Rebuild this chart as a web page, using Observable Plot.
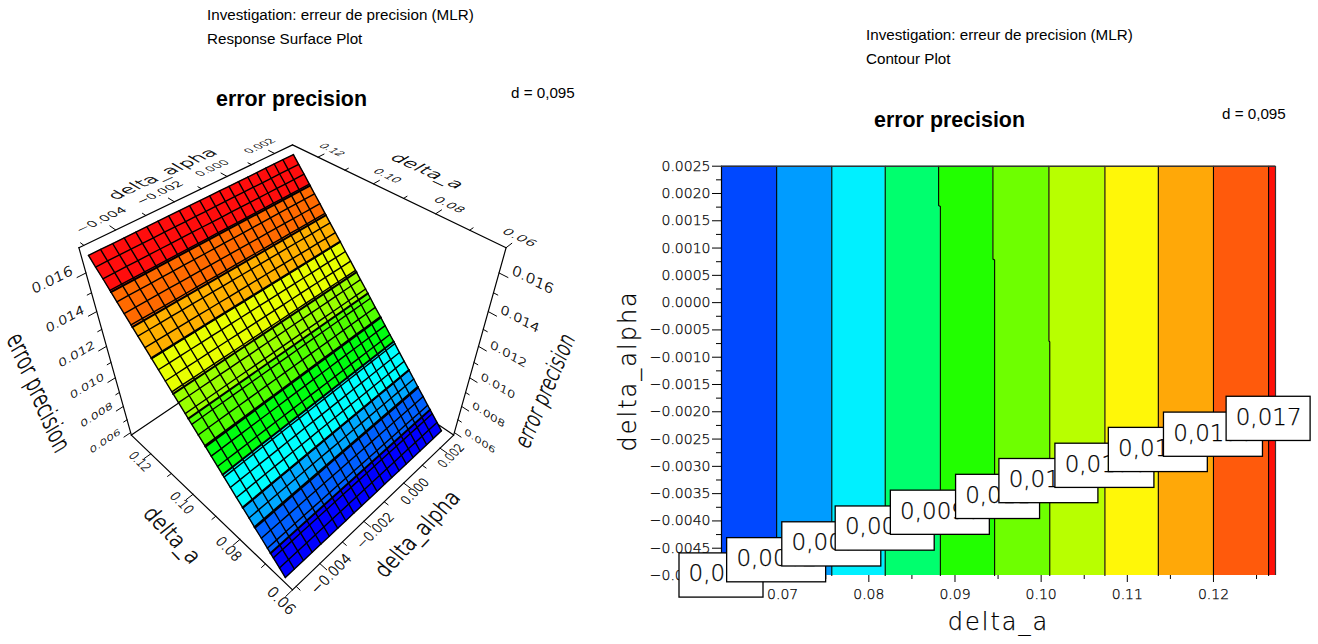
<!DOCTYPE html>
<html><head><meta charset="utf-8">
<script src="https://cdn.jsdelivr.net/npm/d3@7"></script>
<script src="https://cdn.jsdelivr.net/npm/@observablehq/plot@0.6"></script>
<style>
html,body{margin:0;background:#fff;}
#page{position:relative;width:1318px;height:644px;overflow:hidden;background:#fff;}
.t{position:absolute;font-family:"Liberation Sans",Arial,sans-serif;font-size:15.2px;color:#000;white-space:nowrap;line-height:1;}
.h{font-weight:bold;font-size:21.4px;}
#left,#right{position:absolute;}
#left{left:0;top:0;} #right{left:620px;top:130px;}
svg text{font-weight:200;stroke:#000;stroke-width:.25px;}
</style></head><body><div id="page">
<div class="t" style="left:207px;top:7px">Investigation: erreur de precision (MLR)</div>
<div class="t" style="left:207px;top:31px">Response Surface Plot</div>
<div class="t h" style="left:216px;top:89px">error precision</div>
<div class="t" style="left:511px;top:85px">d = 0,095</div>
<div class="t" style="left:866px;top:27px">Investigation: erreur de precision (MLR)</div>
<div class="t" style="left:866px;top:51px">Contour Plot</div>
<div class="t h" style="left:874px;top:110px">error precision</div>
<div class="t" style="left:1222px;top:106px">d = 0,095</div>
<div id="left"></div><div id="right"></div>
</div>
<script>
// ---------- surface data ----------
const surfaceAlpha=[-.0051,-.00473,-.00435,-.00398,-.0036,-.00323,-.00285,-.00248,-.0021,-.00173,-.00135,-.00098,-.0006,-.00023,.00015,.00053,.0009,.00128,.00165,.00203,.0025];
const surfaceA=[.0630,.0651,.0673,.0694,.0715,.0737,.0758,.0779,.0801,.0822,.0843,.0865,.0886,.0907,.0929,.0950,.0971,.0993,.1014,.1035,.1057,.1078,.1099,.1121,.1142,.1163,.1185,.1206,.1227,.1249,.1270];
const surfaceZ=[.00609,.00645,.00682,.00718,.00755,.00792,.00829,.00865,.00902,.00938,.00975,.01012,.01048,.01085,.01121,.01158,.01195,.01231,.01268,.01304,.01341,.01378,.01414,.01451,.01487,.01524,.01561,.01597,.01634,.0167,.01706];
const surfaceBandA=[.063,.0683,.0739,.0780,.0848,.0905,.0961,.1010,.1079,.1138,.1203,.127];
const surfaceColors=["#0000ff","#0060ff","#00a8ff","#00ffff","#00ff10","#50ff00","#99ff00","#e8ff00","#ffb000","#ff6a00","#ff0d0d"];
const alphaDomain=[-.00515,.0028], aDomain=[.06,.13], zDomain=[.0058,.0172];
const alphaMajor=[-.004,-.002,0,.002], alphaMinor=[-.005,-.003,-.001,.001];
const aMajor=[.06,.08,.10,.12], aMinor=[.07,.09,.11];
const zMajor=[.006,.008,.010,.012,.014,.016], zMinor=[.007,.009,.011,.013,.015];
const camera={elevation:45,distance:5.05,focal:656};
const tickEm=.107;
// ---------- contour data ----------
const contourAlpha=[.0025,.00178,.00176,.0008,.00078,-.0007,-.00072,-.005];
const contourLines=[
 [.0693,.0693,.0693,.0693,.0693,.0693,.0693,.0693],
 [.0757,.0757,.0757,.0757,.0757,.0757,.0757,.0757],
 [.0819,.0819,.0819,.0819,.0819,.0819,.0819,.0819],
 [.0881,.0881,.0883,.0883,.0883,.0883,.0883,.0883],
 [.0944,.0944,.0944,.0944,.0946,.0946,.0946,.0946],
 [.1009,.1009,.1009,.1009,.1009,.1009,.1010,.1010],
 [.1074,.1074,.1074,.1074,.1074,.1074,.1074,.1074],
 [.1136,.1136,.1136,.1136,.1136,.1136,.1136,.1136],
 [.1200,.1200,.1200,.1200,.1200,.1200,.1200,.1200],
 [.1264,.1264,.1264,.1264,.1264,.1264,.1264,.1264]];
const contourColors=["#0048ff","#009cff","#00f0ff","#00ff6e","#22ff00","#6eff00","#b8ff00","#fff708","#ffa808","#ff5a0c","#ff1008"];
const contourDomainA=[.0629,.1272], contourDomainAlpha=[-.005,.0025];
const labelTexts=["0,005","0,0062","0,0074","0,0086","0,0098","0,011","0,0122","0,0134","0,0146","0,0158","0,017"];
const labelA=[.0629,.0693,.0757,.0819,.0883,.0950,.1009,.1074,.1136,.1200,.1264];
const labelAlpha=[-.0050,-.00472,-.00443,-.00414,-.00385,-.00356,-.00327,-.00299,-.00270,-.00242,-.00213];
const boxHeightAlpha=.00081;
const yMajor=[.0025,.002,.0015,.001,.0005,0,-.0005,-.001,-.0015,-.002,-.0025,-.003,-.0035,-.004,-.0045,-.005];
const yMinor=[.00225,.00175,.00125,.00075,.00025,-.00025,-.00075,-.00125,-.00175,-.00225,-.00275,-.00325,-.00375,-.00425,-.00475];
const xMajor=[.07,.08,.09,.10,.11,.12];
const xMinor=[.065,.075,.085,.095,.105,.115,.125];

// ---------- camera ----------
const norm=(v,[a,b])=>-1+2*(v-a)/(b-a);
const nU=v=>norm(v,alphaDomain),nV=v=>norm(v,aDomain),nZ=v=>norm(v,zDomain);
const sE=Math.sin(camera.elevation*Math.PI/180),cE=Math.cos(camera.elevation*Math.PI/180);
function cam(U,V,Z){
  const p=(U-V)/Math.SQRT2,q=(U+V)/Math.SQRT2;
  const up=q*sE+Z*cE,t=-q*cE+Z*sE,s=camera.focal/(camera.distance-t);
  return {x:p*s,y:up*s};
}
const zAt=d3.scaleLinear(surfaceA,surfaceZ);
const pt=(alpha,a,z)=>cam(nU(alpha),nV(a),nZ(z));
const aLo=surfaceAlpha[0],aHi=surfaceAlpha[surfaceAlpha.length-1];

const bandPts=[];
surfaceColors.forEach((color,b)=>{
  const a0=surfaceBandA[b],a1=surfaceBandA[b+1];
  [[aLo,a0],[aHi,a0],[aHi,a1],[aLo,a1],[aLo,a0]].forEach(([al,a])=>bandPts.push({...pt(al,a,zAt(a)),band:b,color}));
});
const gridPts=[];
surfaceA.forEach((a,i)=>surfaceAlpha.forEach(al=>gridPts.push({...pt(al,a,surfaceZ[i]),id:"r"+i})));
surfaceAlpha.forEach((al,j)=>surfaceA.forEach((a,i)=>gridPts.push({...pt(al,a,surfaceZ[i]),id:"c"+j})));
const bandLinePts=[];
surfaceBandA.slice(1,-1).forEach((a,i)=>[aLo,aHi].forEach(al=>bandLinePts.push({...pt(al,a,zAt(a)),id:i})));

const frameEdges=[[[-1,1,1],[1,1,1]],[[1,1,1],[1,-1,1]],[[1,-1,1],[1,-1,-1]],[[-1,1,1],[-1,1,-1]],[[-1,1,-1],[-1,-1,-1]],[[-1,-1,-1],[1,-1,-1]]];
const backEdges=[[[-1,1,-1],[1,1,-1]],[[1,-1,-1],[1,1,-1]]];
const edgePts=(list)=>list.flatMap((e,i)=>e.map(c=>({...cam(...c),id:i})));
const tickSegs=[];
const addTick=(from,to)=>{const id=tickSegs.length;tickSegs.push({...cam(...from),id},{...cam(...to),id});};
[[alphaMajor,.07],[alphaMinor,.04]].forEach(([vals,l])=>vals.forEach(v=>{
  const U=nU(v);addTick([U,1,1],[U,1+l,1]);addTick([U,-1,-1],[U,-1-l,-1]);}));
[[aMajor,.07],[aMinor,.04]].forEach(([vals,l])=>vals.forEach(v=>{
  const V=nV(v);addTick([1,V,1],[1+l,V,1]);addTick([-1,V,-1],[-1-l,V,-1]);}));
[[zMajor,.07],[zMinor,.035]].forEach(([vals,l])=>vals.forEach(v=>{
  const Z=nZ(v);addTick([-1,1,Z],[-1-l,1,Z]);addTick([1,-1,Z],[1,-1-l,Z]);}));

const fa=d3.format(".3f"),fb=d3.format(".2f");
const labels3d=[];
const addL=(text,n,dir,up,em)=>labels3d.push({text,n,dir,up,em,...cam(...n)});
alphaMajor.forEach(v=>{addL(fa(v),[nU(v),1.14,1],[1,0,0],[0,1,0],tickEm);addL(fa(v),[nU(v),-1.15,-1],[1,0,0],[0,1,0],tickEm);});
aMajor.forEach(v=>{addL(fb(v),[1.13,nV(v),1],[0,-1,0],[1,0,0],tickEm);addL(fb(v),[-1.15,nV(v),-1],[0,-1,0],[1,0,0],tickEm);});
zMajor.forEach(v=>{addL(fa(v),[-1.22,1.05,nZ(v)],[1,0,0],[0,0,1],tickEm);addL(fa(v),[1.05,-1.22,nZ(v)],[0,-1,0],[0,0,1],tickEm);});
addL("delta_alpha",[-.03,1.32,1],[1,0,0],[0,1,0],.172);
addL("delta_a",[1.38,-.03,1],[0,-1,0],[1,0,0],.175);
addL("error precision",[-1.65,1,.03],[0,0,-1],[1,0,0],.177);
addL("error precision",[1,-1.63,.04],[0,0,1],[0,1,0],.162);
addL("delta_a",[-1.4,-.03,-1],[0,-1,0],[1,0,0],.166);
addL("delta_alpha",[0,-1.42,-1],[1,0,0],[0,1,0],.17);

const font='"DejaVu Sans",sans-serif';
const left=Plot.plot({
  width:600,height:644,margin:0,
  x:{domain:[-292,308],range:[0,600],axis:null},
  y:{domain:[354,-290],range:[0,644],axis:null},
  style:{fontFamily:font,background:"transparent",overflow:"visible"},
  marks:[
    Plot.line(edgePts(backEdges),{x:"x",y:"y",z:"id",stroke:"#000",strokeWidth:1.2}),
    Plot.line(bandPts,{x:"x",y:"y",z:"band",fill:"color",stroke:"color",strokeWidth:.5}),
    Plot.line(gridPts,{x:"x",y:"y",z:"id",stroke:"#000",strokeWidth:1.4}),
    Plot.line(bandLinePts,{x:"x",y:"y",z:"id",stroke:"#000",strokeWidth:2}),
    Plot.line(edgePts(frameEdges),{x:"x",y:"y",z:"id",stroke:"#000",strokeWidth:1.2}),
    Plot.line(tickSegs,{x:"x",y:"y",z:"id",stroke:"#000",strokeWidth:1}),
    Plot.text(labels3d,{x:"x",y:"y",text:"text",fontSize:10,fill:"#000",textAnchor:"middle"})
  ]
});
document.getElementById("left").appendChild(left);
// text laid into the planes of the box: each run takes the camera's local basis
left.querySelectorAll('g[aria-label="text"] text').forEach((el,i)=>{
  const d=labels3d[i];if(!d)return;
  const off=(v,k)=>d.n.map((c,j)=>c+v[j]*k);
  const o=cam(...d.n),a=cam(...off(d.dir,d.em)),b=cam(...off(d.up,d.em));
  el.removeAttribute("x");el.removeAttribute("y");
  el.setAttribute("transform",`matrix(${(a.x-o.x)/10} ${-(a.y-o.y)/10} ${-(b.x-o.x)/10} ${(b.y-o.y)/10} ${o.x+292} ${354-o.y})`);
});

// ---------- contour ----------
const bandRows=[];
contourColors.forEach((color,b)=>contourAlpha.forEach((alpha,k)=>bandRows.push({
  band:b,color,alpha,
  lo:b===0?contourDomainA[0]:contourLines[b-1][k],
  hi:b===contourColors.length-1?contourDomainA[1]:contourLines[b][k]})));
const lineRows=contourLines.flatMap((l,i)=>l.map((a,k)=>({a,alpha:contourAlpha[k],id:i})));
const labelRows=labelTexts.map((text,i)=>({text,a:labelA[i],alpha:labelAlpha[i],w:(text.length===5?84:99)/8616}));
const yf=d3.format(".4f"),xf=d3.format(".2f");
const right=Plot.plot({
  width:698,height:514,marginTop:35.7,marginBottom:69,marginLeft:101,marginRight:43,
  x:{domain:contourDomainA,axis:null},
  y:{domain:contourDomainAlpha,axis:null},
  style:{fontFamily:font,background:"transparent",overflow:"visible"},
  marks:[
    Plot.area(bandRows,{x1:"lo",x2:"hi",y1:"alpha",y2:"alpha",z:"band",fill:"color"}),
    Plot.line(lineRows,{x:"a",y:"alpha",z:"id",stroke:"#000",strokeWidth:1.1}),
    Plot.ruleX([contourDomainA[0]],{stroke:"#000",strokeWidth:1.2}),
    Plot.ruleX([contourDomainA[1]],{stroke:"#333",strokeWidth:1.2}),
    Plot.ruleY([contourDomainAlpha[1]],{stroke:"#333",strokeWidth:1.4}),
    Plot.axisY({ticks:yMajor,anchor:"left",tickSize:9,tickPadding:2,fontSize:14,tickFormat:yf,label:null}),
    Plot.axisY({ticks:yMinor,anchor:"left",tickSize:5,fill:"none",label:null}),
    Plot.axisX({ticks:xMajor,anchor:"bottom",tickSize:7,tickPadding:7,fontSize:14,tickFormat:xf,label:null}),
    Plot.axisX({ticks:xMinor,anchor:"bottom",tickSize:4,fill:"none",label:null}),
    Plot.text(["delta_a"],{frameAnchor:"bottom",dy:47,fontSize:24,lineAnchor:"middle"}),
    Plot.text(["delta_alpha"],{frameAnchor:"left",dx:-93,rotate:-90,fontSize:24,textAnchor:"middle"}),
    ...labelRows.flatMap(d=>[
      Plot.rect([d],{x1:r=>r.a-r.w/2,x2:r=>r.a+r.w/2,y1:r=>r.alpha-boxHeightAlpha/2,y2:r=>r.alpha+boxHeightAlpha/2,fill:"#fff",stroke:"#000",strokeWidth:1.3}),
      Plot.text([d],{x:"a",y:"alpha",text:"text",fontSize:23,dy:-1.5,fill:"#000"})
    ])
  ]
});
document.getElementById("right").appendChild(right);
right.querySelectorAll("text").forEach(el=>{if(el.textContent.startsWith("delta"))el.style.letterSpacing="2px";});
</script></body></html>
